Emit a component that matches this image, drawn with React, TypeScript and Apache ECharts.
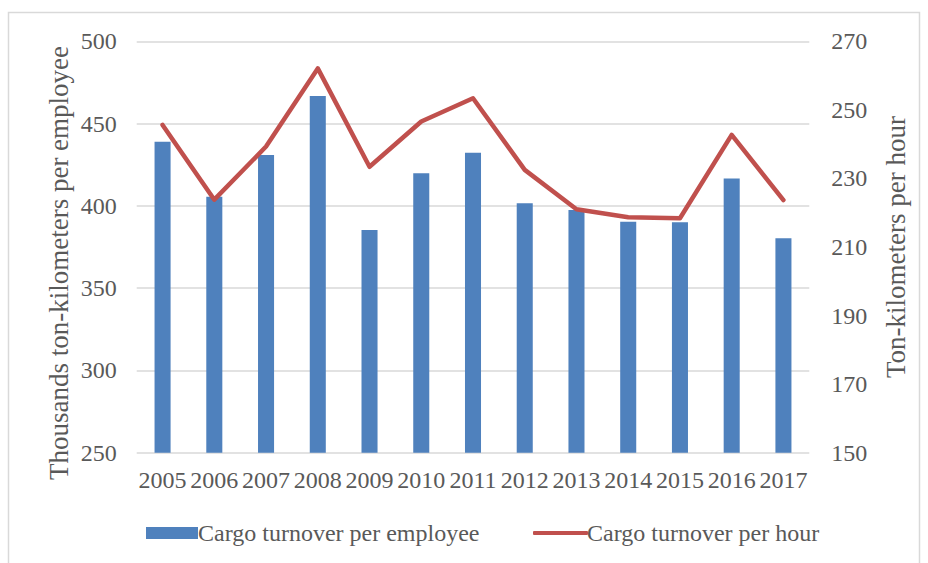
import React, { useEffect, useRef } from "react";
import * as echarts from "echarts";

const years = ["2005", "2006", "2007", "2008", "2009", "2010", "2011", "2012", "2013", "2014", "2015", "2016", "2017"];
const perEmployee = [439.0, 405.6, 430.9, 466.8, 385.3, 419.8, 432.3, 401.6, 397.5, 390.4, 390.0, 416.7, 380.3];
const perHour = [245.6, 223.8, 239.3, 262.1, 233.4, 246.6, 253.4, 232.5, 221.0, 218.7, 218.4, 242.7, 223.7];
const leftTicks = { min: 250, max: 500, interval: 50 };
const rightTicks = { min: 150, max: 270, interval: 20 };

const FONT = "Liberation Serif";
const TXT = "#595959";
const BLUE = "#4F81BD";
const RED = "#C0504D";

export default function App() {
  const ref = useRef<HTMLDivElement>(null);
  useEffect(() => {
    const chart = echarts.init(ref.current!, null, { renderer: "svg" });
    chart.setOption({
      animation: false,
      backgroundColor: "#fff",
      grid: { left: 136.7, right: 118.7, top: 41.3, bottom: 110.3, containLabel: false },
      xAxis: {
        type: "category",
        data: years,
        axisLine: { show: false },
        axisTick: { show: false },
        axisLabel: { color: TXT, fontFamily: FONT, fontSize: 24, margin: 15, interval: 0 },
      },
      yAxis: [
        {
          type: "value",
          ...leftTicks,
          axisLine: { show: false },
          axisTick: { show: false },
          splitLine: { lineStyle: { color: "#D9D9D9", width: 1.5 } },
          axisLabel: { color: TXT, fontFamily: FONT, fontSize: 24, margin: 20 },
        },
        {
          type: "value",
          ...rightTicks,
          axisLine: { show: false },
          axisTick: { show: false },
          splitLine: { show: false },
          axisLabel: { color: TXT, fontFamily: FONT, fontSize: 24, margin: 22 },
        },
      ],
      legend: [
        {
          data: ["Cargo turnover per employee"],
          left: 141,
          top: 516,
          itemWidth: 52,
          itemHeight: 12,
          itemGap: 5,
          icon: "rect",
          textStyle: { color: TXT, fontFamily: FONT, fontSize: 24, padding: [0, 0, 0, -5] },
        },
        {
          data: ["Cargo turnover per hour"],
          left: 528,
          top: 516,
          itemWidth: 55,
          itemHeight: 4,
          icon: "roundRect",
          textStyle: { color: TXT, fontFamily: FONT, fontSize: 24, padding: [0, 0, 0, -6] },
        },
      ],
      graphic: [
        {
          type: "rect",
          shape: { x: 8.5, y: 12.5, width: 911, height: 560 },
          style: { fill: "none", stroke: "#D9D9D9", lineWidth: 1.5 },
          silent: true,
        },
        {
          type: "text",
          x: 59,
          y: 263,
          rotation: Math.PI / 2,
          style: {
            text: "Thousands ton-kilometers per employee",
            fill: TXT,
            font: `27px "${FONT}"`,
            align: "center",
            verticalAlign: "middle",
          },
        },
        {
          type: "text",
          x: 896,
          y: 247,
          rotation: Math.PI / 2,
          style: {
            text: "Ton-kilometers per hour",
            fill: TXT,
            font: `27px "${FONT}"`,
            align: "center",
            verticalAlign: "middle",
          },
        },
      ],
      series: [
        {
          name: "Cargo turnover per employee",
          type: "bar",
          data: perEmployee,
          yAxisIndex: 0,
          barWidth: "31%",
          itemStyle: { color: BLUE },
        },
        {
          name: "Cargo turnover per hour",
          type: "line",
          data: perHour,
          yAxisIndex: 1,
          symbol: "none",
          lineStyle: { color: RED, width: 4.5, cap: "round", join: "round" },
          itemStyle: { color: RED },
        },
      ],
    });
    return () => chart.dispose();
  }, []);
  return <div ref={ref} style={{ width: 928, height: 563, position: "absolute", left: 0, top: 0 }} />;
}
